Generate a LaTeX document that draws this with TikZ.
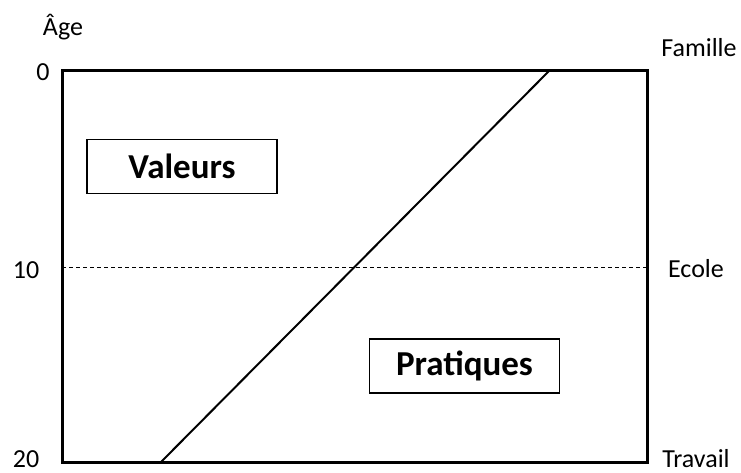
\documentclass[tikz,border=0pt]{standalone}
\usepackage{fontspec}
\setmainfont{Carlito}
\begin{document}
\begin{tikzpicture}[x=1pt,y=-1pt,
  lbl/.style={font=\fontsize{26}{28}\selectfont, inner sep=0pt, anchor=base},
  boxlbl/.style={draw, line width=1.3pt, font=\fontsize{35}{38}\selectfont\bfseries, inner sep=0pt, minimum width=190pt, minimum height=54pt},
  frame/.style={line width=3pt},
]
\useasboundingbox (0,0) rectangle (741,473);
\coordinate (tl) at (62,71);
\coordinate (br) at (647,462);
\draw[frame] (tl) rectangle (br);
\coordinate (dl) at (62,267);
\coordinate (dr) at (647,267);
\draw[line width=1pt, dash pattern=on 4pt off 3pt] (dl) -- (dr);
\coordinate (dtop) at (549,71);
\coordinate (dbot) at (161,462);
\draw[line width=2pt] (dbot) -- (dtop);
\node[boxlbl] (val) at (182,166.5) {Valeurs};
\node[boxlbl] (pra) at (464.5,366) {Pratiques};
\node[lbl] (age) at (63,36) {Âge};
\node[lbl] (a0) at (43,81) {0};
\node[lbl] (a10) at (26,278) {10};
\node[lbl] (a20) at (26,467) {20};
\node[lbl] (fam) at (699,57) {Famille};
\node[lbl] (eco) at (696,277) {Ecole};
\node[lbl] (tra) at (696,467) {Travail};
\end{tikzpicture}
\end{document}
